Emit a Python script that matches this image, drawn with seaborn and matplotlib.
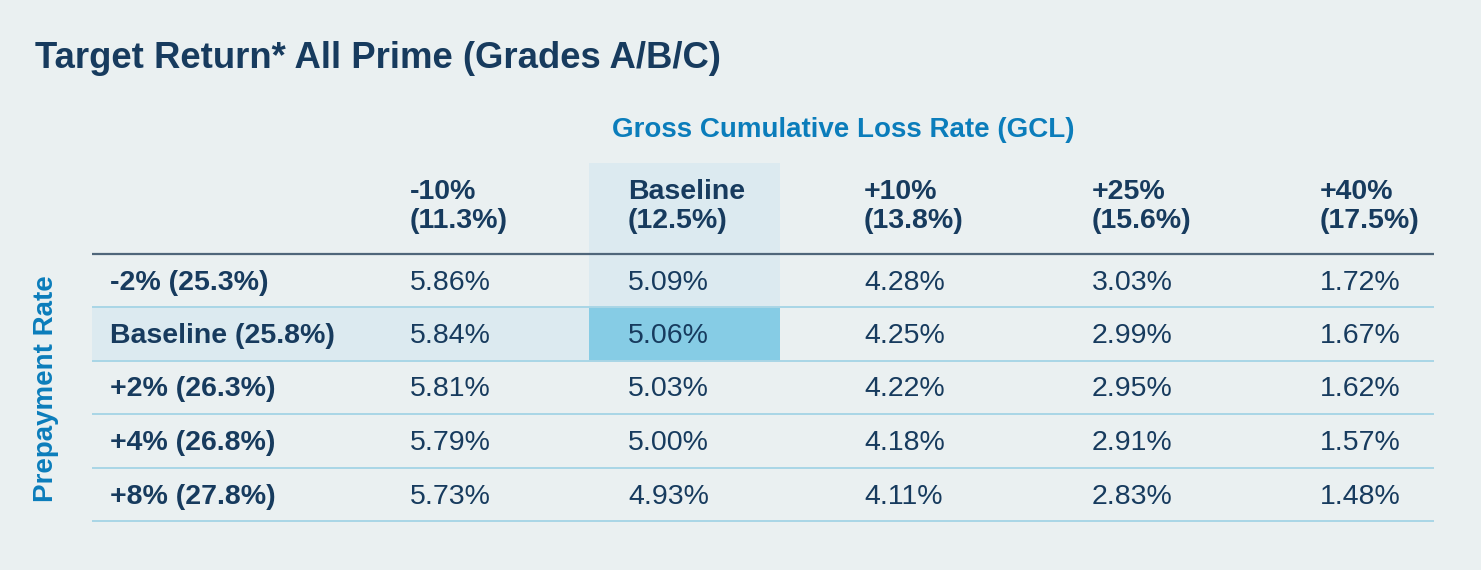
import matplotlib.pyplot as plt
from matplotlib.colors import ListedColormap
import numpy as np
import seaborn as sns

# Data
col_top = ["-10%", "Baseline", "+10%", "+25%", "+40%"]
col_bottom = ["(11.3%)", "(12.5%)", "(13.8%)", "(15.6%)", "(17.5%)"]
row_labels = ["-2% (25.3%)", "Baseline (25.8%)", "+2% (26.3%)", "+4% (26.8%)", "+8% (27.8%)"]
row_m10 = ["5.86%", "5.84%", "5.81%", "5.79%", "5.73%"]
row_base = ["5.09%", "5.06%", "5.03%", "5.00%", "4.93%"]
row_p10 = ["4.28%", "4.25%", "4.22%", "4.18%", "4.11%"]
row_p25 = ["3.03%", "2.99%", "2.95%", "2.91%", "2.83%"]
row_p40 = ["1.72%", "1.67%", "1.62%", "1.57%", "1.48%"]
values = [row_m10, row_base, row_p10, row_p25, row_p40]
base_col = 1
base_row = 1

# Style
BG = "#EAF0F1"
NAVY = "#173B5E"
BLUE = "#0B7DBB"
LIGHT = "#DCEAF0"
DARK = "#86CCE5"

sns.set_theme(style="white", rc={"figure.facecolor": BG, "axes.facecolor": BG})
plt.rcParams["font.family"] = ["Liberation Sans", "DejaVu Sans"]

fig = plt.figure(figsize=(14.81, 5.70), dpi=100)
ax = fig.add_axes([0, 0, 1, 1])
ax.set_xlim(0, 1481)
ax.set_ylim(570, 0)
ax.axis("off")

# table layout (pixels)
x_edges = np.array([92, 390, 589, 780, 1010, 1240, 1434])
y_edges = np.array([163, 254, 307, 361, 414, 468, 521])
text_x = [110, 410, 628, 864, 1092, 1320]

# highlight levels: 0 none, 1 light, 2 dark
levels = np.zeros((6, 6))
levels[:base_row + 2, base_col + 1] = 1
levels[base_row + 1, :base_col + 2] = 1
levels[base_row + 1, base_col + 1] = 2
ax.pcolormesh(x_edges, y_edges, levels, cmap=ListedColormap([BG, LIGHT, DARK]),
              vmin=0, vmax=2, shading="flat")

# grid lines
ax.hlines(y_edges[1], x_edges[0], x_edges[-1], color="#4F667A", lw=1.6)
ax.hlines(y_edges[2:], x_edges[0], x_edges[-1], color="#A9D6E6", lw=1.4)

# titles
ax.text(35, 59, "Target Return* All Prime (Grades A/B/C)", fontsize=26.3, fontweight="bold",
        color=NAVY, va="center", ha="left")
ax.text(843, 130, "Gross Cumulative Loss Rate (GCL)", fontsize=20, fontweight="bold",
        color=BLUE, va="center", ha="center")
ax.text(46, 389, "Prepayment Rate", fontsize=20, fontweight="bold", color=BLUE,
        rotation=90, va="center", ha="center")

# headers
for j in range(len(col_top)):
    ax.text(text_x[j + 1], 192, col_top[j], fontsize=20.5, fontweight="bold", color=NAVY, va="center")
    ax.text(text_x[j + 1], 221, col_bottom[j], fontsize=20.5, fontweight="bold", color=NAVY, va="center")

# body
for i, lab in enumerate(row_labels):
    yc = (y_edges[i + 1] + y_edges[i + 2]) / 2 + 2
    ax.text(text_x[0], yc, lab, fontsize=20.5, fontweight="bold", color=NAVY, va="center")
    for j, col in enumerate(values):
        ax.text(text_x[j + 1], yc, col[i], fontsize=20.5, color=NAVY, va="center")

fig.savefig("out.png", dpi=100, facecolor=BG)
